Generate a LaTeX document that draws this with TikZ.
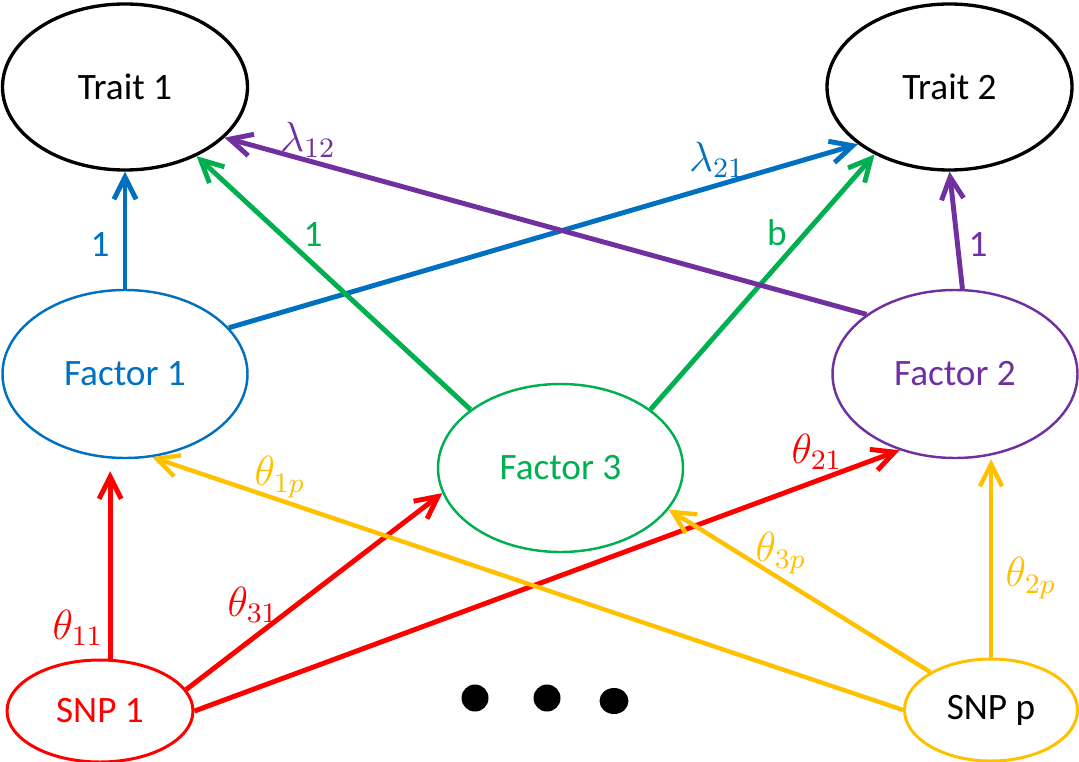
\documentclass[tikz,border=0pt]{standalone}
\usepackage{fontspec}
\setmainfont{Carlito}
\usetikzlibrary{shapes.geometric,arrows.meta}
\definecolor{offblue}{HTML}{0070C0}
\definecolor{offgreen}{HTML}{00B050}
\definecolor{offpurple}{HTML}{7030A0}
\definecolor{offred}{HTML}{FF0000}
\definecolor{offgold}{HTML}{FFC000}
\begin{document}
\begin{tikzpicture}[x=0.1mm,y=-0.1mm,
    every node/.style={font=\fontsize{10.6}{12}\selectfont},
    var/.style={ellipse, draw, inner sep=0pt},
    trait/.style={var, line width=0.95pt, minimum width=24.5mm, minimum height=16.6mm},
    factor/.style={var, line width=0.7pt, minimum width=24.5mm, minimum height=16.8mm},
    snp/.style={var, line width=0.85pt, minimum height=10.2mm},
    load/.style={line width=1.4pt, -{Straight Barb[length=6.3pt,width=6.3pt]}},
    lbl/.style={inner sep=0pt},
    coef/.style={lbl, font=\fontsize{12}{14}\selectfont}]
    \useasboundingbox (0,0) rectangle (1079,762);
    % variables
    \node[trait] (t1) at (125,87) {Trait 1};
    \node[trait] (t2) at (949.5,87) {Trait 2};
    \node[factor, offblue] (f1) at (125,374) {Factor 1};
    \node[factor, offpurple] (f2) at (955,374) {Factor 2};
    \node[factor, offgreen] (f3) at (560.5,468) {Factor 3};
    \node[snp, offred, minimum width=18.6mm] (s1) at (100,711) {SNP 1};
    \node[snp, draw=offgold, minimum width=17.3mm] (sp) at (991,710) {SNP p};
    % factors to traits
    \draw[load, offblue] (f1.north) -- (t1.south);
    \draw[load, offblue] (f1.24) -- (t2.212);
    \draw[load, offgreen] (f3.147) -- (t1.316);
    \draw[load, offgreen] (f3.33) -- (t2.222);
    \draw[load, offpurple] (f2.146) -- (t1.333);
    \draw[load, offpurple] (f2.85) -- (t2.south);
    % snps to factors
    \draw[load, offred, shorten >=1.2mm] (s1.79) -- (s1.79 |- f1.south);
    \draw[load, offred] (s1.14) -- (f3.192);
    \draw[load, offred] (s1.east) -- (f2.234);
    \draw[load, offgold, line width=1.25pt] (sp.west) -- (f1.288);
    \draw[load, offgold, line width=1.25pt] (sp.148) -- (f3.339);
    \draw[load, offgold, line width=1.25pt] (sp.north) -- (sp.north |- f2.south);
    % labels
    \node[lbl, offblue] (lb1) at (100,245) {1};
    \node[coef, offblue] (lb2) at (717,160) {$\lambda_{21}$};
    \node[lbl, offgreen] (lg1) at (313,235) {1};
    \node[lbl, offgreen] (lg2) at (777,233) {b};
    \node[coef, offpurple] (lp1) at (308,140) {$\lambda_{12}$};
    \node[lbl, offpurple] (lp2) at (978,245) {1};
    \node[coef, offred] (lr1) at (78,628) {$\theta_{11}$};
    \node[coef, offred] (lr2) at (253,605) {$\theta_{31}$};
    \node[coef, offred] (lr3) at (817,452) {$\theta_{21}$};
    \node[coef, offgold] (ly1) at (280,477) {$\theta_{1p}$};
    \node[coef, offgold] (ly2) at (781,553) {$\theta_{3p}$};
    \node[coef, offgold] (ly3) at (1031,578) {$\theta_{2p}$};
    % dots
    \fill (475,698) circle (13.5);
    \fill (547,698) circle (13.5);
    \fill (614,701) ellipse (14.5 and 13);
\end{tikzpicture}
\end{document}
